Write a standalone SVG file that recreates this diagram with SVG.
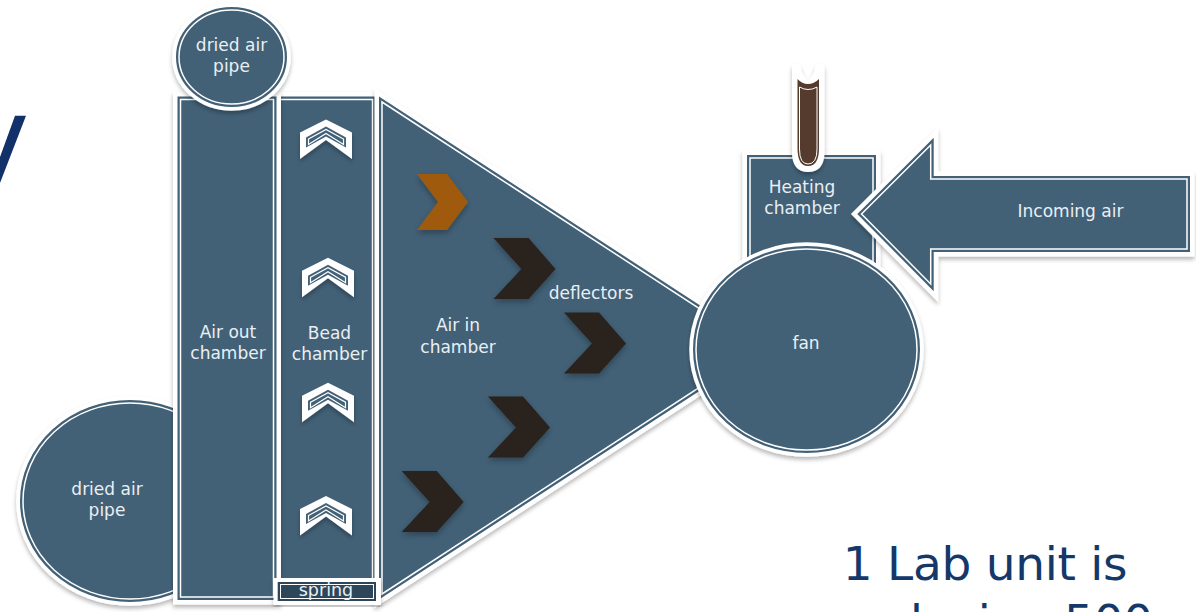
<svg xmlns="http://www.w3.org/2000/svg" width="1196" height="612" viewBox="0 0 1196 612">
<style>
.o{fill:#fff;stroke:#fff;stroke-width:15;stroke-linejoin:miter;stroke-miterlimit:12;filter:url(#sh)}
.oe{stroke-width:13.5}
.m{fill:#426177;stroke:#426177;stroke-width:6;stroke-linejoin:miter;stroke-miterlimit:12}
.i{fill:#426177;stroke:#fff;stroke-width:1.5;stroke-linejoin:miter;stroke-miterlimit:12}
text{font-family:"DejaVu Sans","Liberation Sans",sans-serif;font-size:17px;fill:#e9eff3;text-anchor:middle}
.big{font-size:47px;fill:#15386a;letter-spacing:-.3px}
.dark{fill:#2a201a;filter:url(#sd)}
</style>
<defs>
<filter id="sh" x="-20%" y="-20%" width="140%" height="140%"><feDropShadow dx="0" dy="3" stdDeviation="2" flood-color="#000" flood-opacity=".28"/></filter>
<filter id="sd" x="-30%" y="-30%" width="160%" height="160%"><feDropShadow dx="0" dy="3" stdDeviation="3" flood-color="#000" flood-opacity=".3"/></filter>
<ellipse id="s-pipeb" cx="130" cy="501" rx="107" ry="98"/>
<rect id="s-out" x="180.5" y="99.5" width="93" height="497.5"/>
<ellipse id="s-pipet" cx="231.5" cy="57" rx="52.5" ry="47"/>
<rect id="s-bead" x="278" y="99.5" width="94.5" height="490"/>
<polygon id="s-tri" points="382,102 760,348 382,594"/>
<rect id="s-heat" x="750" y="158" width="123" height="120"/>
<polygon id="s-arrow" points="861.5,214 930.7,145 930.7,179 1187,179 1187,249 930.7,249 930.7,284"/>
<ellipse id="s-fan" cx="806.5" cy="349.5" rx="110.5" ry="100.5"/>
<g id="chev">
<polygon points="-26,13 0,0 26,13 26,39.5 0,20.5 -26,39.5" fill="#fff" filter="url(#sh)"/>
<polygon points="-20,18 0,7 20,18 20,28 0,17 -20,28" fill="#426177"/>
<polygon points="-17.5,19.5 0,10 17.5,19.5 17.5,25 0,14 -17.5,25" fill="#426177" stroke="#fff" stroke-width="1.2"/>
</g>
<polygon id="dk" points="0,0 35,0 62,31 35,61 0,61 28,31"/>
</defs>
<polygon id="slash" points="15,115.7 26,115.7 0,183 0,157" fill="#12316a"/>
<g id="bottom-pipe"><use href="#s-pipeb" class="o oe"/><use href="#s-pipeb" class="m"/><use href="#s-pipeb" class="i"/><text x="107" y="495">dried air</text><text x="107" y="516">pipe</text></g>
<g id="bead-chamber"><use href="#s-bead" class="o"/><use href="#s-bead" class="m"/><use href="#s-bead" class="i"/></g>
<g id="air-in-chamber"><use href="#s-tri" class="o"/><use href="#s-tri" class="m"/><use href="#s-tri" class="i"/></g>
<g id="air-out-chamber"><use href="#s-out" class="o"/><use href="#s-out" class="m"/><use href="#s-out" class="i"/><text x="228" y="337.5">Air out</text><text x="228" y="358.5">chamber</text></g>
<g id="top-pipe"><use href="#s-pipet" class="o oe"/><use href="#s-pipet" class="m"/><use href="#s-pipet" class="i"/><text x="231.5" y="50.5">dried air</text><text x="231.5" y="71.5">pipe</text></g>
<g id="bead-label"><text x="329.5" y="338.5">Bead</text><text x="329.5" y="360">chamber</text></g>
<g id="spring">
<rect x="276" y="580.5" width="102.5" height="22" fill="#fff" stroke="#fff" stroke-width="5" filter="url(#sh)"/>
<rect x="277.7" y="582" width="98.3" height="19" fill="#2d4659"/>
<rect x="280.5" y="584.5" width="93" height="14" fill="#2d4659" stroke="#fff" stroke-width="1"/>
<text x="326" y="595.5" style="font-size:17.5px">spring</text>
</g>
<g id="beads"><use href="#chev" x="326" y="119.5"/><use href="#chev" x="328" y="257.7"/><use href="#chev" x="328" y="382.7"/><use href="#chev" x="326" y="496"/></g>
<g id="air-in-label"><text x="458" y="331">Air in</text><text x="458" y="352.5">chamber</text></g>
<g id="deflectors">
<polygon points="417,174 447,174 468,202 447,230 417,230 438,202" fill="#a05a0c" filter="url(#sd)"/>
<use href="#dk" class="dark" x="493.5" y="238"/>
<use href="#dk" class="dark" x="564" y="312.5"/>
<use href="#dk" class="dark" x="488" y="396.5"/>
<use href="#dk" class="dark" x="401.7" y="471"/>
<text x="591" y="299">deflectors</text>
</g>
<g id="heating-chamber"><use href="#s-heat" class="o"/><use href="#s-heat" class="m"/><use href="#s-heat" class="i"/><text x="802" y="193">Heating</text><text x="802" y="214">chamber</text></g>
<g id="thermometer">
<path d="M792,68 Q792,64 796,64 Q800,64 801,68 Q803,78 808,80 Q813,78 815,68 Q816,64 820,64 Q824.5,64 824.5,68 V152 Q824.5,172 808,172 Q792,172 792,152 Z" fill="#fff" filter="url(#sh)"/>
<path d="M797.5,79 Q802,84 808,84 Q814,84 819,79 V148 Q819,166 808,166 Q797.5,166 797.5,148 Z" fill="#553a2e"/>
<path d="M799.5,87 Q804,89.5 808,89.5 Q813,89.5 817,87 V149 Q817,164 808,164 Q799.5,164 799.5,149 Z" fill="#553a2e" stroke="#fff" stroke-width="1"/>
</g>
<g id="incoming-air"><use href="#s-arrow" class="o"/><use href="#s-arrow" class="m"/><use href="#s-arrow" class="i"/><text x="1070.5" y="216.5">Incoming air</text></g>
<g id="fan"><use href="#s-fan" class="o oe"/><use href="#s-fan" class="m"/><use href="#s-fan" class="i"/><text x="806" y="349">fan</text></g>
<text class="big" x="985" y="580">1 Lab unit is</text>
<text class="big" x="985" y="638">producing 500</text>
</svg>
